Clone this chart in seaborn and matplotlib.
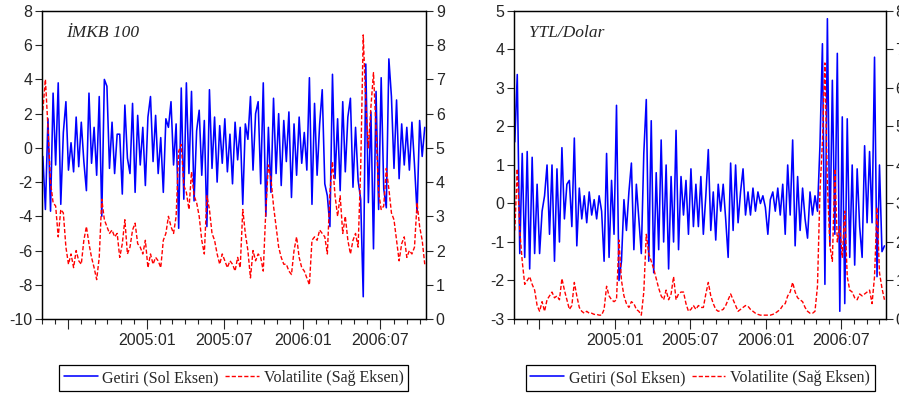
import pandas as pd
import seaborn as sns
import matplotlib
matplotlib.use("Agg")
import matplotlib.pyplot as plt
from matplotlib.ticker import FixedLocator, FixedFormatter, MultipleLocator
import matplotlib.dates as mdates

# daily returns (left axis) and volatility (right axis)
imkb_getiri = [
    -0.5, -3.6, 1.7, -3.7, 3.2, -1.0, 3.8, -3.3, 0.9, 2.7,
    -1.3, 0.3, -1.4, 1.8, -1.1, 1.5, -0.8, -2.5, 3.2, -0.9,
    1.2, -1.6, 3.0, -4.0, 4.0, 3.6, -1.2, 1.5, -1.5, 0.8,
    0.8, -2.7, 2.5, -0.6, -1.5, 2.6, -2.6, 1.9, -1.0, 1.2,
    -2.2, 1.8, 3.0, -0.8, 1.9, -1.5, 0.6, -2.6, 1.7, 1.2,
    2.7, -1.0, 1.4, -4.7, 3.5, -3.0, 3.8, -1.5, 3.3, -3.1,
    1.0, 2.2, -1.6, 1.6, -4.6, 3.4, -1.2, 1.8, -2.0, 1.3,
    -0.9, 1.7, -1.4, 0.8, -2.1, 1.5, -0.7, 1.2, -3.3, 1.4,
    0.5, 3.0, -1.3, 2.0, 2.7, -2.1, 3.8, -4.0, 1.2, -2.6,
    2.9, -1.5, 2.0, -2.2, 1.6, -0.8, 2.1, -2.9, 1.4, -1.6,
    1.8, -0.9, 0.9, -1.3, 4.1, -3.3, 2.6, -1.6, 1.4, 3.4,
    -2.1, -2.8, -4.6, 4.3, -1.8, 1.7, -2.5, 2.7, -1.4, 1.8,
    2.9, -2.3, 1.2, -1.9, -3.0, -8.7, 4.9, -3.2, 2.1, -5.9,
    3.3, -3.6, 4.1, -2.4, -3.5, 5.2, 3.0, -1.2, 2.8, -1.8,
    1.4, -1.0, 1.2, -1.3, 1.5, -1.0, -3.8, 1.6, -0.5, 1.2,
]
imkb_volatilite = [
    6.1, 7.0, 5.6, 4.0, 3.4, 3.3, 2.4, 3.2, 3.1, 2.1,
    1.6, 1.9, 1.5, 2.0, 1.7, 1.6, 2.3, 2.7, 2.2, 1.8,
    1.5, 1.15, 1.8, 3.5, 2.9, 2.7, 2.5, 2.6, 2.4, 2.5,
    1.8, 2.2, 2.9, 1.9, 2.1, 2.6, 2.8, 2.2, 2.1, 1.9,
    2.3, 1.5, 1.9, 1.6, 1.8, 1.7, 1.5, 2.3, 2.5, 3.0,
    2.7, 2.5, 3.0, 4.9, 5.1, 3.9, 3.7, 3.2, 4.3, 3.6,
    3.4, 3.0, 2.3, 1.9, 3.6, 3.2, 2.5, 2.3, 1.9, 1.6,
    1.9, 1.7, 1.5, 1.7, 1.6, 1.4, 1.8, 1.5, 3.2, 2.5,
    2.0, 1.2, 2.0, 1.7, 1.9, 1.8, 1.4, 3.2, 4.5, 4.1,
    3.3, 2.7, 2.1, 1.8, 1.6, 1.6, 1.4, 1.3, 2.0, 2.4,
    1.8, 1.5, 1.4, 1.2, 1.0, 2.3, 2.4, 2.3, 2.6, 2.5,
    2.4, 1.9, 3.7, 4.6, 3.6, 3.0, 3.6, 2.5, 3.0, 2.3,
    1.9, 2.3, 2.5, 2.1, 4.4, 8.3, 6.3, 5.0, 6.2, 7.2,
    5.5, 3.7, 3.2, 3.3, 4.4, 3.8, 3.1, 2.9, 2.3, 1.7,
    2.2, 2.4, 1.8, 2.0, 1.9, 2.1, 3.4, 2.7, 2.3, 1.6,
]
ytl_getiri = [
    1.6, 3.35, -1.3, 1.3, -1.4, 1.35, -1.7, 1.2, -1.3, 0.5,
    -1.3, -0.2, 0.2, 1.0, -0.8, 1.0, -1.5, 0.9, -1.0, 1.45,
    -0.4, 0.5, 0.6, -0.6, 1.7, -1.1, 0.4, -0.4, 0.2, -0.5,
    0.3, -0.3, 0.1, -0.4, 0.2, -0.2, -1.5, 1.3, -1.4, 0.6,
    -0.8, 2.55, -2.0, -1.5, 0.1, -0.7, 0.3, 1.05, -1.2, 0.5,
    -0.4, -1.3, 1.3, 2.7, -1.5, 2.15, -1.8, 0.8, -1.2, 1.65,
    -1.0, 1.0, -1.7, 0.7, -1.0, 1.9, -1.2, 0.7, -0.3, 0.6,
    -0.8, 0.9, -0.6, 0.5, -0.6, 0.7, -0.8, 0.2, 1.4, -0.7,
    0.3, -0.95, 0.5, -0.2, 0.5, -0.4, -1.4, 1.05, -0.7, 1.0,
    -0.5, 0.3, 0.9, -0.3, 0.3, -0.3, 0.4, -0.2, 0.3, 0.0,
    0.2, -0.1, -0.8, 0.1, 0.3, -0.2, 0.4, -0.3, 0.5, -0.8,
    1.0, -0.3, 1.65, -1.1, 0.7, -0.7, 0.4, -0.4, -0.9, 0.3,
    -0.3, 0.2, -0.2, 1.5, 4.15, -2.1, 4.8, -1.1, 3.2, -0.8,
    3.9, -2.8, 2.25, -2.6, 2.2, -1.4, 1.0, -1.6, 0.9, -0.6,
    -1.4, 1.5, -0.5, 1.35, -0.5, 3.8, -1.9, 1.0, -1.25, -1.1,
]
ytl_volatilite = [
    2.3, 3.9, 2.3, 1.5, 0.9, 1.0, 1.1, 0.9, 0.75, 0.35,
    0.2, 0.45, 0.2, 0.5, 0.6, 0.7, 0.55, 0.6, 0.5, 1.05,
    0.75, 0.5, 0.25, 0.35, 0.95, 0.6, 0.3, 0.2, 0.15, 0.2,
    0.15, 0.15, 0.12, 0.12, 0.1, 0.1, 0.25, 0.85, 0.6, 0.5,
    0.45, 0.5, 2.05, 1.0, 0.6, 0.4, 0.3, 0.45, 0.4, 0.25,
    0.2, 0.1, 0.7, 2.2, 1.7, 1.5, 1.3, 1.05, 0.8, 0.6,
    0.5, 0.75, 0.5, 0.65, 1.1, 0.5, 0.65, 0.7, 0.7, 0.4,
    0.2, 0.25, 0.35, 0.25, 0.35, 0.3, 0.3, 0.65, 0.95, 0.6,
    0.4, 0.25, 0.2, 0.22, 0.25, 0.35, 0.5, 0.65, 0.5, 0.35,
    0.2, 0.25, 0.3, 0.35, 0.33, 0.25, 0.2, 0.15, 0.12, 0.1,
    0.1, 0.1, 0.1, 0.1, 0.12, 0.15, 0.2, 0.25, 0.35, 0.4,
    0.6, 0.7, 0.95, 0.7, 0.55, 0.5, 0.45, 0.3, 0.2, 0.15,
    0.15, 0.2, 0.85, 3.3, 4.6, 6.65, 3.5, 1.9, 1.5, 3.9,
    2.0, 2.4, 1.6, 2.8, 1.1, 0.75, 0.7, 0.55, 0.5, 0.65,
    0.6, 0.65, 0.7, 0.75, 0.4, 1.1, 2.9, 1.2, 0.8, 0.5,
]

dates = pd.date_range('2004-05-03', '2006-10-13', periods=len(imkb_getiri))

tick_dates = ['2004-07-01', '2005-01-01', '2005-07-01', '2006-01-01', '2006-07-01']
tick_labels = ['', '2005:01', '2005:07', '2006:01', '2006:07']

panels = [
    dict(title='İMKB 100', ret=imkb_getiri, vol=imkb_volatilite,
         left=(-10, 8, 2), right=(0, 9, 1), rect=[0.0467, 0.2005, 0.4272, 0.772],
         title_x=0.062, leg_x=0.260),
    dict(title='YTL/Dolar', ret=ytl_getiri, vol=ytl_volatilite,
         left=(-3, 5, 1), right=(0, 8, 1), rect=[0.5717, 0.2005, 0.4135, 0.772],
         title_x=0.04, leg_x=0.7787),
]

sns.set_style('ticks')
plt.rcParams['font.family'] = ['Liberation Sans', 'DejaVu Sans']
plt.rcParams['axes.unicode_minus'] = False

fig = plt.figure(figsize=(8.99, 3.99), dpi=100)
dash = (0, (3, 1.5))

for p in panels:
    ax = fig.add_axes(p['rect'])
    ax2 = ax.twinx()

    sns.lineplot(x=dates, y=p['ret'], ax=ax, color='#0000ff', linewidth=1.15, legend=False)
    sns.lineplot(x=dates, y=p['vol'], ax=ax2, color='#ff0000', linewidth=1.0,
                 linestyle=dash, legend=False)

    lo, hi, st = p['left']
    ax.set_ylim(lo, hi)
    ax.yaxis.set_major_locator(MultipleLocator(st))
    lo, hi, st = p['right']
    ax2.set_ylim(lo, hi)
    ax2.yaxis.set_major_locator(MultipleLocator(st))

    ax.set_xlim(pd.Timestamp('2004-05-01'), pd.Timestamp('2006-10-16'))
    ax.xaxis.set_major_locator(FixedLocator(mdates.date2num(pd.to_datetime(tick_dates))))
    ax.xaxis.set_major_formatter(FixedFormatter(tick_labels))
    ax.xaxis.set_minor_locator(mdates.MonthLocator())

    ax.tick_params(axis='x', which='major', length=7, width=0.8, labelsize=11.5, pad=3)
    ax.tick_params(axis='x', which='minor', length=3.5, width=0.8)
    ax.tick_params(axis='y', length=5, width=0.8, labelsize=11.5, pad=2)
    ax2.tick_params(axis='y', length=5, width=0.8, labelsize=11.5, pad=2)
    for a in (ax, ax2):
        a.set_xlabel('')
        a.set_ylabel('')
        for s in a.spines.values():
            s.set_linewidth(0.9)
            s.set_color('black')

    ax.text(p['title_x'], 0.93, p['title'], transform=ax.transAxes, va='center',
            fontfamily='Liberation Serif', fontstyle='italic', fontsize=12.5)

    handles = [ax.get_lines()[0], ax2.get_lines()[0]]
    leg = fig.legend(handles, ['Getiri (Sol Eksen)', 'Volatilite (Sağ Eksen)'],
                     loc='center', bbox_to_anchor=(p['leg_x'], 0.0526), ncol=2,
                     frameon=True, fancybox=False, edgecolor='black', framealpha=1,
                     prop={'family': 'Liberation Serif', 'size': 11.5},
                     handlelength=2.1, handletextpad=0.3, columnspacing=0.4,
                     borderpad=0.3, borderaxespad=0)
    leg.get_frame().set_linewidth(0.9)

fig.savefig('out.png', dpi=100)
